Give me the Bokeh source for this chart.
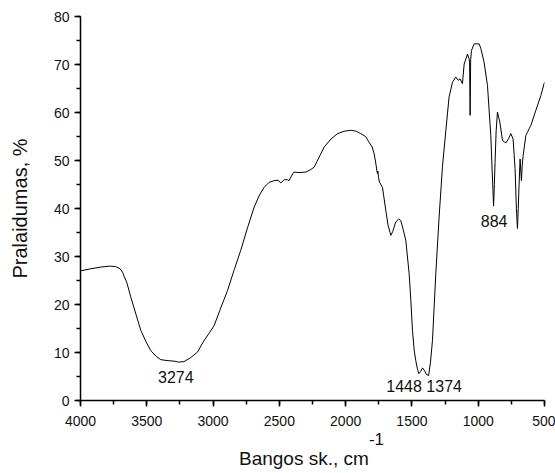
from bokeh.plotting import figure
from bokeh.models import Range1d, SingleIntervalTicker, Label, ColumnDataSource, Div
from bokeh.layouts import column
from bokeh.embed import file_html
from bokeh.resources import INLINE

# ---- data ----
wavenumber = [4000, 3930, 3847, 3780, 3734, 3700, 3683, 3650, 3620, 3580, 3545, 3505,
              3470, 3430, 3394, 3340, 3294, 3260, 3219, 3170, 3117, 3068, 3030, 2992,
              2950, 2891, 2840, 2791, 2740, 2690, 2650, 2615, 2580, 2540, 2510, 2489,
              2464, 2440, 2427, 2400, 2389, 2360, 2338, 2300, 2270, 2238, 2200, 2162,
              2110, 2061, 2010, 1961, 1920, 1886, 1850, 1823, 1800, 1785, 1770, 1765,
              1760, 1757, 1752, 1745, 1722, 1697, 1680, 1665, 1659, 1645, 1622, 1600,
              1584, 1565, 1546, 1521, 1508, 1496, 1483, 1471, 1458, 1448, 1435, 1420,
              1405, 1390, 1374, 1360, 1345, 1320, 1295, 1270, 1244, 1220, 1194, 1169,
              1151, 1137, 1119, 1106, 1081, 1069, 1065, 1061, 1057, 1051, 1031, 1018,
              993, 980, 956, 930, 905, 895, 884, 878, 873, 865, 855, 837, 817, 800,
              787, 770, 754, 737, 722, 712, 704, 698, 692, 684, 674, 668, 661, 641,
              628, 616, 603, 566, 528, 500]
transmittance = [27.0, 27.4, 27.8, 28.0, 27.9, 27.4, 26.7, 24.5, 21.5, 17.8, 14.6, 12.2,
                 10.4, 9.2, 8.5, 8.3, 8.2, 8.0, 8.1, 8.9, 10.1, 12.5, 14.0, 15.6,
                 18.7, 22.9, 27.3, 31.3, 36.0, 40.3, 42.8, 44.4, 45.4, 45.8, 45.9, 45.3,
                 46.0, 46.0, 45.8, 47.2, 47.6, 47.5, 47.5, 47.6, 48.0, 48.6, 50.7, 52.8,
                 54.5, 55.6, 56.1, 56.3, 56.1, 55.6, 55.0, 53.8, 52.8, 51.4, 49.0, 47.9,
                 47.3, 47.8, 46.5, 45.5, 44.4, 39.6, 36.5, 35.0, 34.4, 35.2, 37.2, 37.8,
                 37.5, 35.5, 33.3, 26.4, 20.8, 14.6, 10.5, 8.3, 6.5, 5.6, 6.0, 6.8,
                 6.2, 5.4, 5.2, 8.0, 12.5, 26.4, 38.2, 48.6, 56.3, 63.2, 66.3, 67.4,
                 66.7, 67.0, 66.0, 70.1, 72.2, 71.2, 70.5, 59.4, 71.0, 72.9, 74.3, 74.3,
                 74.3, 73.3, 70.5, 65.6, 55.2, 48.0, 40.5, 45.0, 49.6, 56.0, 60.1, 58.0, 54.2, 53.8,
                 53.8, 54.6, 55.6, 54.5, 48.3, 40.0, 35.8, 40.0, 44.8, 50.3, 45.8, 49.0, 51.0, 55.2,
                 55.9, 56.6, 57.3, 60.4, 63.5, 66.3]

peak_labels = ["3274", "1448 1374", "884"]
peak_label_x = [3281, 1408, 880]
peak_label_y = [4.8, 2.9, 37.4]

x_ticks_interval = 500
y_ticks_interval = 10

y_title = "Pralaidumas, %"
x_title = "Bangos sk., cm"
x_title_sup = "-1"

FONT = "Liberation Sans"

p = figure(width=555, height=430, output_backend="svg", toolbar_location=None,
           x_range=Range1d(4000, 500), y_range=Range1d(0, 80),
           min_border_left=80, min_border_right=11, min_border_top=16, min_border_bottom=30)
p.outline_line_color = None
p.xgrid.visible = False
p.ygrid.visible = False
p.background_fill_color = "white"
p.border_fill_color = "white"

src = ColumnDataSource(dict(x=wavenumber, y=transmittance))
p.line("x", "y", source=src, line_color="black", line_width=1)

p.xaxis.ticker = SingleIntervalTicker(interval=x_ticks_interval, num_minor_ticks=2)
p.yaxis.ticker = SingleIntervalTicker(interval=y_ticks_interval, num_minor_ticks=2)

for ax in (p.xaxis[0], p.yaxis[0]):
    ax.axis_line_width = 1.5
    ax.axis_line_color = "black"
    ax.major_tick_line_width = 1.5
    ax.minor_tick_line_width = 1.5
    ax.major_tick_line_color = "black"
    ax.minor_tick_line_color = "black"
    ax.major_tick_in = 0
    ax.major_tick_out = 6
    ax.minor_tick_in = 0
    ax.minor_tick_out = 4
    ax.major_label_text_font = FONT
    ax.major_label_text_font_size = "14px"
    ax.major_label_text_color = "#111111"

p.xaxis.major_label_standoff = 9
p.yaxis.major_label_standoff = 5

p.yaxis.axis_label = y_title
p.yaxis.axis_label_text_font = FONT
p.yaxis.axis_label_text_font_size = "20px"
p.yaxis.axis_label_text_font_style = "normal"
p.yaxis.axis_label_text_color = "#111111"
p.yaxis.axis_label_standoff = 20

for t, lx, ly in zip(peak_labels, peak_label_x, peak_label_y):
    p.add_layout(Label(x=lx, y=ly, text=t, text_font=FONT, text_font_size="16px",
                       text_color="#111111", text_align="center", text_baseline="middle"))

title_div = Div(
    text=f'{x_title}<span style="position:relative; top:-20px; font-size:17px;">{x_title_sup}</span>',
    width=487, height=43, margin=(0, 0, 0, 68),
    styles={"font-family": FONT, "font-size": "19px", "color": "#111111",
            "text-align": "center", "line-height": "19px", "padding-top": "19px",
            "white-space": "nowrap"},
)

layout = column(p, title_div, spacing=0)

open("out.html", "w").write(file_html(layout, INLINE))
